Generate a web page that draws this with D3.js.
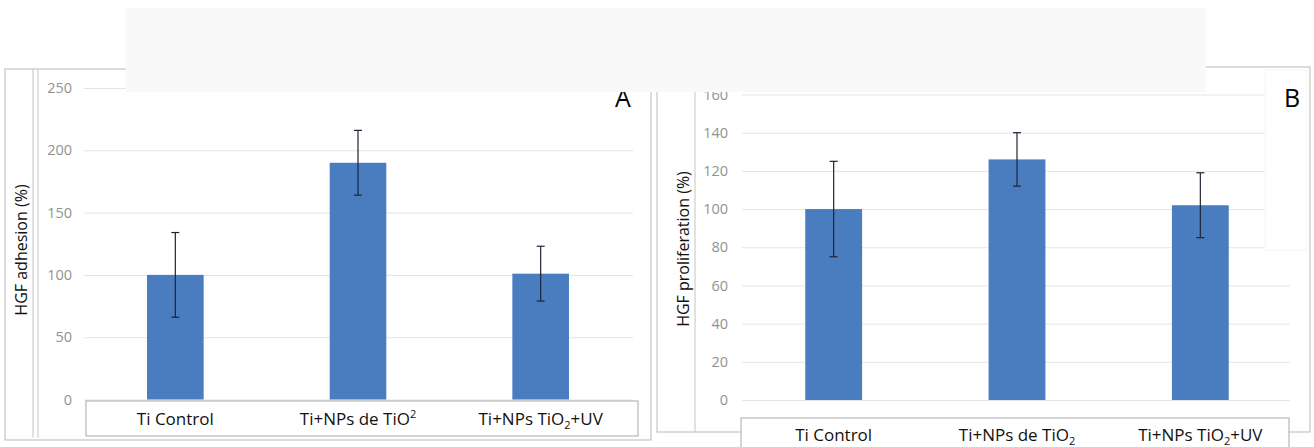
<!DOCTYPE html>
<html>
<head>
<meta charset="utf-8">
<script src="https://cdn.jsdelivr.net/npm/d3@7/dist/d3.min.js"></script>
<style>
  html, body { margin: 0; padding: 0; background: #ffffff; }
  svg { display: block; }
  text { font-family: "Open Sans", "Noto Sans", sans-serif; }
</style>
</head>
<body>
<svg id="chart" width="1314" height="447"></svg>
<script>
// ---- data ----
const categories = ["Ti Control", "Ti+NPs de TiO2", "Ti+NPs TiO2+UV"];
const adhesionMeans = [100, 190, 101];
const adhesionErrors = [34, 26, 22];
const proliferationMeans = [100, 126, 102];
const proliferationErrors = [25, 14, 17];
const adhesionTicks = [0, 50, 100, 150, 200, 250];
const proliferationTicks = [0, 20, 40, 60, 80, 100, 120, 140, 160];
// label pieces: [main, script, rest] ; script style per panel
const labelPartsA = [["Ti Control", "", ""], ["Ti+NPs de TiO", "2", ""], ["Ti+NPs TiO", "2", "+UV"]];
const labelScriptA = ["", "super", "sub"];
const labelPartsB = [["Ti Control", "", ""], ["Ti+NPs de TiO", "2", ""], ["Ti+NPs TiO", "2", "+UV"]];
const labelScriptB = ["", "sub", "sub"];

const svg = d3.select("#chart");
const barColor = "#4a7dbf";
const errColor = "#1e2434";
const gridColor = "#e4e4e4";

function panel(cfg) {
  const g = svg.append("g");
  // outer frame
  g.append("rect").attr("x", cfg.frame[0]).attr("y", cfg.frame[1])
    .attr("width", cfg.frame[2] - cfg.frame[0]).attr("height", cfg.frame[3] - cfg.frame[1])
    .attr("fill", "#fff").attr("stroke", "#b9b9b9").attr("stroke-width", 1);
  cfg.innerLines.forEach(x => {
    g.append("line").attr("x1", x).attr("x2", x).attr("y1", cfg.frame[1]).attr("y2", cfg.innerBottom)
      .attr("stroke", "#c4c4c4").attr("stroke-width", 1);
  });

  const x = d3.scaleBand().domain(categories).range(cfg.xRange).padding(0);
  const y = d3.scaleLinear().domain(cfg.domain).range(cfg.yRange);

  // gridlines
  const grid = g.append("g").attr("transform", `translate(${cfg.xRange[0]},0)`)
    .call(d3.axisLeft(y).tickValues(cfg.ticks).tickSize(-(cfg.gridEnd - cfg.xRange[0])).tickFormat(""));
  grid.select(".domain").remove();
  grid.selectAll(".tick line").attr("stroke", gridColor).attr("stroke-width", 1);

  // tick labels
  const ax = g.append("g").attr("transform", `translate(${cfg.labelX},0)`)
    .call(d3.axisLeft(y).tickValues(cfg.ticks).tickSize(0).tickPadding(0));
  ax.select(".domain").remove();
  ax.selectAll(".tick text").attr("fill", "#929292").style("font-size", "14.5px")
    .style("font-family", "'Open Sans', sans-serif");

  // bars
  const bw = x.bandwidth() * 0.31;
  g.selectAll("rect.bar").data(cfg.means).enter().append("rect").attr("class", "bar")
    .attr("x", (d, i) => x(categories[i]) + x.bandwidth() / 2 - bw / 2)
    .attr("y", d => y(d))
    .attr("width", bw)
    .attr("height", d => y(0) - y(d))
    .attr("fill", barColor);

  // error bars
  const eb = g.selectAll("g.err").data(cfg.means).enter().append("g").attr("class", "err");
  eb.append("line")
    .attr("x1", (d, i) => x(categories[i]) + x.bandwidth() / 2)
    .attr("x2", (d, i) => x(categories[i]) + x.bandwidth() / 2)
    .attr("y1", (d, i) => y(d + cfg.errs[i]))
    .attr("y2", (d, i) => y(d - cfg.errs[i]))
    .attr("stroke", errColor).attr("stroke-width", 1.2);
  [1, -1].forEach(s => {
    eb.append("line")
      .attr("x1", (d, i) => x(categories[i]) + x.bandwidth() / 2 - 4)
      .attr("x2", (d, i) => x(categories[i]) + x.bandwidth() / 2 + 4)
      .attr("y1", (d, i) => y(d + s * cfg.errs[i]))
      .attr("y2", (d, i) => y(d + s * cfg.errs[i]))
      .attr("stroke", errColor).attr("stroke-width", 1.2);
  });

  // category box
  g.append("rect").attr("x", cfg.catBox[0]).attr("y", cfg.catBox[1])
    .attr("width", cfg.catBox[2] - cfg.catBox[0]).attr("height", cfg.catBox[3] - cfg.catBox[1])
    .attr("fill", "#fff").attr("stroke", "#a9a9a9").attr("stroke-width", 1);
  categories.forEach((c, i) => {
    const t = g.append("text")
      .attr("x", x(c) + x.bandwidth() / 2)
      .attr("y", cfg.catY)
      .attr("text-anchor", "middle")
      .attr("fill", "#111").style("font-size", "17px");
    const parts = cfg.labels[i];
    t.append("tspan").text(parts[0]);
    if (parts[1]) {
      const sup = cfg.scripts[i] === "super";
      t.append("tspan").text(parts[1]).style("font-size", "11px")
        .attr("dy", sup ? -7 : 4);
      if (parts[2]) t.append("tspan").text(parts[2]).attr("dy", sup ? 7 : -4);
    }
  });

  // y title
  g.append("text")
    .attr("transform", `translate(${cfg.titleX},${cfg.titleY}) rotate(-90)`)
    .attr("text-anchor", "middle").attr("fill", "#111").style("font-size", "16px")
    .text(cfg.title);

  // panel letter box
  if (cfg.letterBox) {
    g.append("rect").attr("x", cfg.letterBox[0]).attr("y", cfg.letterBox[1])
      .attr("width", cfg.letterBox[2] - cfg.letterBox[0]).attr("height", cfg.letterBox[3] - cfg.letterBox[1])
      .attr("fill", "#fff").attr("stroke", "#f6f6f6");
  }
  g.append("text").attr("x", cfg.letterX).attr("y", 107).attr("text-anchor", "middle")
    .attr("fill", "#000").style("font-size", "25px").text(cfg.letter);
}

panel({
  frame: [5, 69, 651, 440], innerLines: [33, 38], innerBottom: 438,
  xRange: [84, 632], gridEnd: 633, domain: [0, 250], yRange: [399.5, 88],
  ticks: adhesionTicks, labelX: 72, means: adhesionMeans, errs: adhesionErrors,
  catBox: [86, 401, 638, 436], catY: 425, labels: labelPartsA, scripts: labelScriptA,
  title: "HGF adhesion (%)", titleX: 27, titleY: 250, letter: "A", letterX: 623
});

panel({
  frame: [657, 67, 1310, 432], innerLines: [695], innerBottom: 432,
  xRange: [742, 1292], gridEnd: 1290, domain: [0, 160], yRange: [400, 94.5],
  ticks: proliferationTicks, labelX: 728, means: proliferationMeans, errs: proliferationErrors,
  catBox: [741, 418, 1289, 452], catY: 441, labels: labelPartsB, scripts: labelScriptB,
  title: "HGF proliferation (%)", titleX: 689, titleY: 249, letter: "B", letterX: 1292,
  letterBox: [1265, 70, 1307, 250]
});

// top blank band of the scanned figure
svg.append("rect").attr("x", 126).attr("y", 8).attr("width", 1080).attr("height", 84)
  .attr("fill", "#f9f9f9");
</script>
</body>
</html>
